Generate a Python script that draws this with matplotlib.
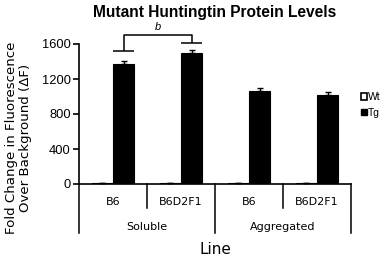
import matplotlib
matplotlib.use("Agg")
import matplotlib.pyplot as plt
import numpy as np
from matplotlib.patches import Patch

lines = ["B6", "B6D2F1", "B6", "B6D2F1"]
fractions = ["Soluble", "Aggregated"]
series = ["Wt", "Tg"]
wt_values = [10, 10, 10, 10]
wt_err = [3, 3, 3, 3]
tg_values = [1370, 1495, 1065, 1015]
tg_err = [40, 35, 28, 35]
yticks = [0, 400, 800, 1200, 1600]

W, H = 387, 256
fig = plt.figure(figsize=(W / 100, H / 100), dpi=100)
ax = fig.add_axes([79 / W, 1 - 184 / H, (351 - 79) / W, (184 - 44) / H])

x = np.arange(len(lines))
bw = 0.31
ekw = dict(ecolor="black", elinewidth=1.0, capthick=1.0, capsize=2.5)
ax.bar(x - bw / 2, wt_values, bw, color="white", edgecolor="black", linewidth=0.8,
       yerr=[np.zeros(4), wt_err], error_kw=ekw)
ax.bar(x + bw / 2, tg_values, bw, color="black", edgecolor="black", linewidth=0.8,
       yerr=[np.zeros(4), tg_err], error_kw=ekw)

ax.set_xlim(-0.5, 3.5)
ax.set_ylim(0, 1600)
ax.set_yticks(yticks)
ax.set_yticklabels([str(v) for v in yticks], fontsize=9.3, family="Liberation Sans")
ax.set_xticks([])
for s in ["top", "right"]:
    ax.spines[s].set_visible(False)
ax.spines["left"].set_linewidth(1.2)
ax.spines["bottom"].set_linewidth(1.2)
ax.tick_params(axis="y", length=4, width=1.2, pad=2)

# bracket
x1, x2 = 0 + bw / 2, 1 + bw / 2
y1, y2, ytop = 1520, 1611, 1705
kw = dict(color="black", lw=1.1, clip_on=False, solid_capstyle="butt")
ax.plot([x1, x1, x2, x2], [y1, ytop, ytop, y2], **kw)
ax.plot([x1 - bw / 2, x1 + bw / 2], [y1, y1], **kw)
ax.plot([x2 - bw / 2, x2 + bw / 2], [y2, y2], **kw)
ax.text((x1 + x2) / 2, 1790, "b", ha="center", va="center", fontsize=8,
        style="italic", family="Liberation Sans")

# category dividers
tr = ax.get_xaxis_transform()
ah = 184 - 44
for bx in [-0.5, 0.5, 1.5, 2.5, 3.5]:
    long = bx in (-0.5, 1.5, 3.5)
    ax.plot([bx, bx], [0, -(49 if long else 24) / ah], transform=tr, color="black",
            lw=1.1, clip_on=False)
for i, lab in enumerate(lines):
    ax.text(i, -18 / ah, lab, transform=tr, ha="center", va="center", fontsize=8,
            family="DejaVu Sans")
for j, lab in enumerate(fractions):
    ax.text(2 * j + 0.5, -43 / ah, lab, transform=tr, ha="center", va="center",
            fontsize=8, family="DejaVu Sans")
ax.text(1.5, -65 / ah, "Line", transform=tr, ha="center", va="center", fontsize=11,
        family="DejaVu Sans")

fig.text(215 / W, 1 - 12 / H, "Mutant Huntingtin Protein Levels", ha="center",
         va="center", fontsize=11.2, fontweight="bold", family="Liberation Sans")
fig.text(19 / W, 1 - 138 / H, "Fold Change in Fluorescence\nOver Background (\u0394F)",
         rotation=90, ha="center", va="center", fontsize=9.6, family="DejaVu Sans",
         linespacing=1.1, multialignment="center")

handles = [Patch(facecolor="white", edgecolor="black", linewidth=1.2),
           Patch(facecolor="black", edgecolor="black")]
fig.legend(handles, series, loc="center left", bbox_to_anchor=(361 / W, 1 - 105 / H),
           frameon=False, handlelength=0.55, handleheight=0.55, handletextpad=0.15,
           labelspacing=0.55, borderpad=0, borderaxespad=0,
           prop=dict(family="Liberation Sans", size=7.5))

fig.savefig("out.png", dpi=100)
